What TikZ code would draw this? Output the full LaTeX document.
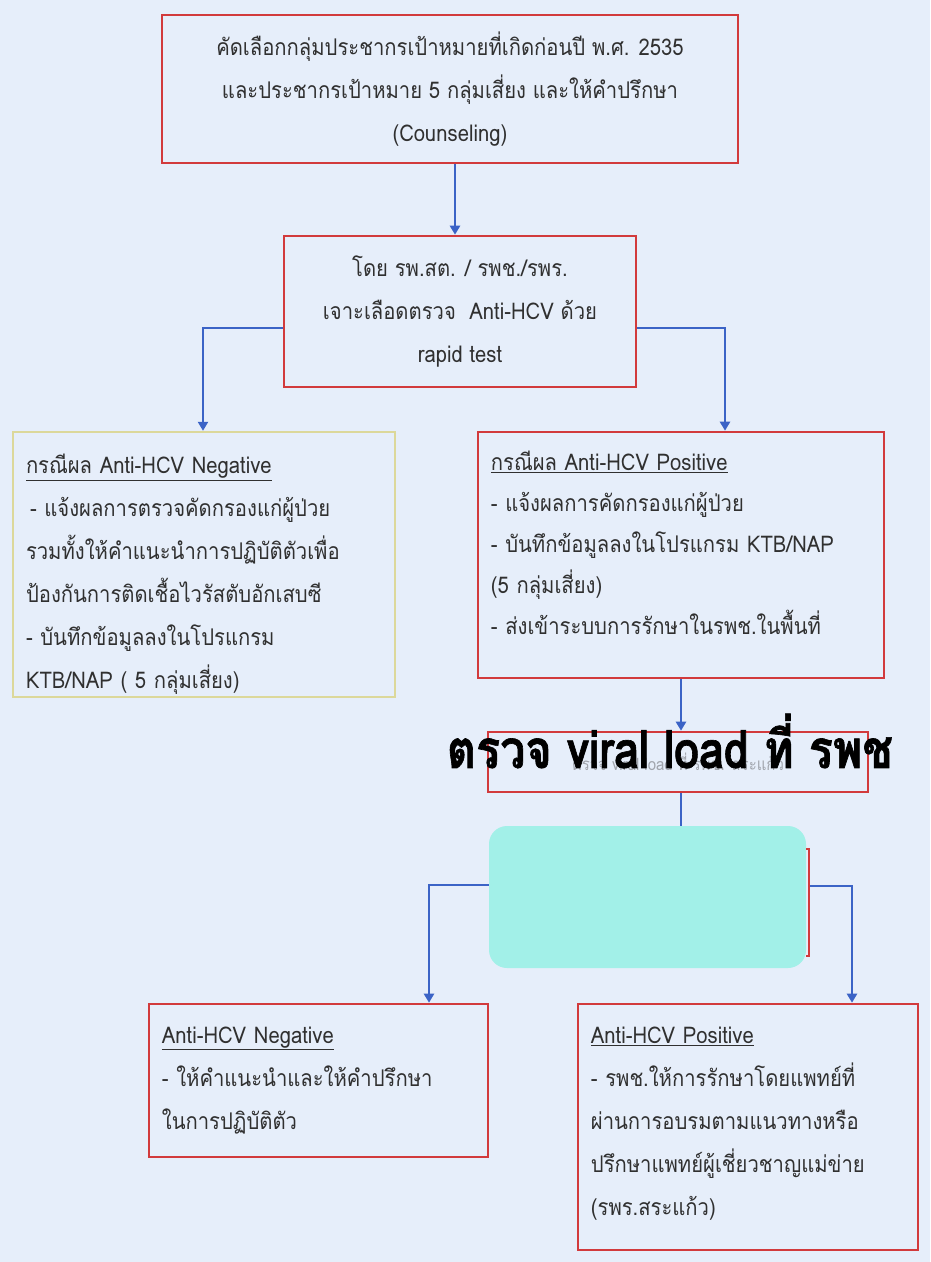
\documentclass[tikz,border=0pt]{standalone}
\usepackage{fontspec}
\usepackage{graphicx}
\setmainfont[Script=Thai, FakeStretch=0.88]{Loma}
\newfontfamily\bigthai[Script=Thai, FakeStretch=0.85, BoldFeatures={FakeBold=1.2}]{Loma}
\usetikzlibrary{arrows.meta}
\definecolor{bg}{HTML}{E6EEFA}
\definecolor{boxred}{HTML}{D23A3C}
\definecolor{boxyel}{HTML}{DCD89A}
\definecolor{arrblue}{HTML}{3B63C6}
\definecolor{teal}{HTML}{A2F0E8}
\definecolor{txt}{HTML}{303030}
\definecolor{faint}{HTML}{A0A4AC}
\tikzset{
  body/.style={font=\fontsize{23}{43}\selectfont, text=txt},
  redbox/.style={draw=boxred, line width=2.6pt, inner sep=0pt, body},
  yelbox/.style={draw=boxyel, line width=2.4pt, inner sep=0pt, body},
  boxtext/.style={body, inner sep=0pt, align=left},
  conn/.style={draw=arrblue, line width=2.8pt, -{Triangle[length=9pt,width=10pt]}},
  plainconn/.style={draw=arrblue, line width=2.8pt},
}
\begin{document}
\begin{tikzpicture}[x=1pt,y=-1pt]
\fill[bg] (0,0) rectangle (930,1262);
\useasboundingbox (0,0) rectangle (930,1262);

% boxes
\node[redbox, minimum width=576pt, minimum height=148pt, align=center] (b1) at (450,89)
  {คัดเลือกกลุ่มประชากรเป้าหมายที่เกิดก่อนปี พ.ศ. 2535\\และประชากรเป้าหมาย 5 กลุ่มเสี่ยง และให้คำปรึกษา\\(Counseling)};
\node[redbox, minimum width=352pt, minimum height=151pt, align=center] (b2) at (460,311.5)
  {โดย รพ.สต. / รพช./รพร.\\เจาะเลือดตรวจ~ Anti-HCV ด้วย\\rapid test};

\node[yelbox, minimum width=382pt, minimum height=265pt] (b3) at (204,564.5) {};
\node[boxtext, text width=356pt, anchor=west] (b3t) at ([xshift=14pt, yshift=-10pt]b3.west)
  {\underline{กรณีผล Anti-HCV Negative}\\
   \hspace*{4pt}- แจ้งผลการตรวจคัดกรองแก่ผู้ป่วย\\
   รวมทั้งให้คำแนะนำการปฏิบัติตัวเพื่อ\\
   ป้องกันการติดเชื้อไวรัสตับอักเสบซี\\
   - บันทึกข้อมูลลงในโปรแกรม\\
   KTB/NAP ( 5 กลุ่มเสี่ยง)};

\node[redbox, minimum width=406pt, minimum height=246pt] (b4) at (681,555) {};
\node[boxtext, text width=390pt, anchor=west, font=\fontsize{23}{41}\selectfont] (b4t) at ([xshift=14pt, yshift=12pt]b4.west)
  {\underline{กรณีผล Anti-HCV Positive}\\
   - แจ้งผลการคัดกรองแก่ผู้ป่วย\\
   - บันทึกข้อมูลลงในโปรแกรม KTB/NAP\\
   (5 กลุ่มเสี่ยง)\\
   - ส่งเข้าระบบการรักษาในรพช.ในพื้นที่};

\node[redbox, minimum width=380pt, minimum height=60pt] (b5) at (678,762) {};
\node[font=\fontsize{17}{20}\selectfont, text=faint] (b5t) at (b5.center) {ตรวจ viral load ที่ รพช. สระแก้ว};
\node[inner sep=0pt, text=black] (big) at (670,741)
  {\resizebox{446pt}{!}{\bigthai\bfseries ตรวจ viral load ที่ รพช}};

\fill[teal, rounded corners=18pt] (489,826) rectangle (806,968);
\node[minimum width=317pt, minimum height=142pt, inner sep=0pt] (tl) at (647.5,897) {};
\draw[boxred, line width=2pt] (806,849) -- (809,849) -- (809,956) -- (806,956);
\coordinate (br) at (810,886);

\node[redbox, minimum width=339pt, minimum height=153pt] (b6) at (318.5,1080.5) {};
\node[boxtext, text width=320pt, anchor=west] (b6t) at ([xshift=14pt]b6.west)
  {\underline{Anti-HCV Negative}\\
   - ให้คำแนะนำและให้คำปรึกษา\\
   ในการปฏิบัติตัว};
\node[redbox, minimum width=340pt, minimum height=246pt] (b7) at (748,1127) {};
\node[boxtext, text width=320pt, anchor=west] (b7t) at ([xshift=14pt, yshift=3pt]b7.west)
  {\underline{Anti-HCV Positive}\\
   - รพช.ให้การรักษาโดยแพทย์ที่\\
   ผ่านการอบรมตามแนวทางหรือ\\
   ปรึกษาแพทย์ผู้เชี่ยวชาญแม่ข่าย\\
   (รพร.สระแก้ว)};

% connectors
\coordinate (x1) at (455,0);
\draw[conn] (b1.south -| x1) -- (b2.north -| x1);
\coordinate (y2) at (0,328);
\coordinate (xl) at (203,0);
\coordinate (xr) at (725,0);
\draw[conn] (b2.west |- y2) -- (xl |- y2) -- (b3.north -| xl);
\draw[conn] (b2.east |- y2) -- (xr |- y2) -- (b4.north -| xr);
\coordinate (x4) at (681,0);
\draw[conn] (b4.south -| x4) -- (b5.north -| x4);
\draw[plainconn] (b5.south -| x4) -- (tl.north -| x4);
\coordinate (y6) at (0,885);
\coordinate (x6) at (429,0);
\coordinate (x7) at (852,0);
\draw[conn] (tl.west |- y6) -- (x6 |- y6) -- (b6.north -| x6);
\draw[conn] (br) -- (x7 |- br) -- (b7.north -| x7);
\end{tikzpicture}
\end{document}
